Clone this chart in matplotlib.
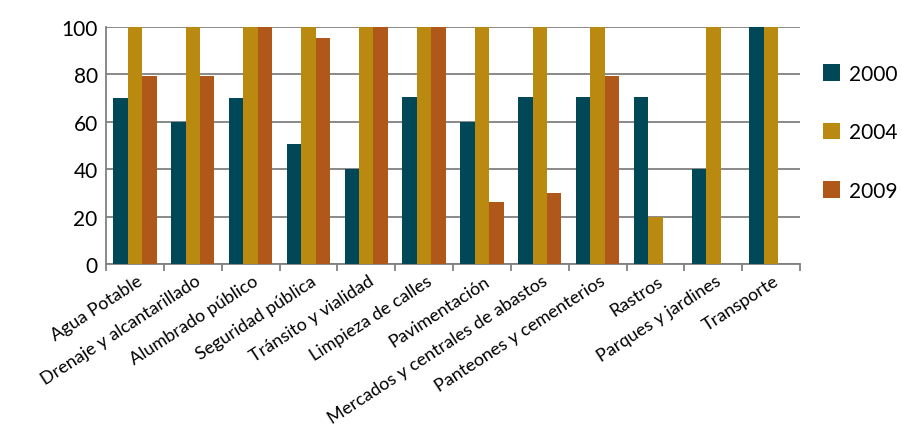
import matplotlib
matplotlib.use("Agg")
import matplotlib.pyplot as plt
import matplotlib.transforms as mtransforms
import numpy as np

categories = ["Agua Potable", "Drenaje y alcantarillado", "Alumbrado público",
              "Seguridad pública", "Tránsito y vialidad", "Limpieza de calles",
              "Pavimentación", "Mercados y centrales de abastos",
              "Panteones y cementerios", "Rastros", "Parques y jardines", "Transporte"]
series_names = ["2000", "2004", "2009"]
v2000 = [70, 60, 70, 50.5, 40, 70.5, 60, 70.5, 70.5, 70.5, 40, 100]
v2004 = [100, 100, 100, 100, 100, 100, 100, 100, 100, 20, 100, 100]
v2009 = [79.5, 79.5, 100, 95.5, 100, 100, 26, 30, 79.5, 0, 0, 0]
colors = ["#004857", "#BA8A10", "#B0581A"]
yticks = [0, 20, 40, 60, 80, 100]

plt.rcParams['font.family'] = ['Lato', 'DejaVu Sans']

fig = plt.figure(figsize=(9.02, 4.31), dpi=100)
ax = fig.add_axes([0.1175, 0.385, 0.7695, 0.55])

x = np.arange(len(categories))
w = 0.25
for i, (vals, name) in enumerate(zip([v2000, v2004, v2009], series_names)):
    ax.bar(x + (i - 1) * w, vals, width=w, color=colors[i], label=name, zorder=3)

ax.set_xlim(-0.5, len(categories) - 0.5)
ax.set_ylim(0, 100)
ax.set_yticks(yticks)
ax.set_yticklabels([str(t) for t in yticks], fontsize=15)
ax.yaxis.grid(True, color="#808080", linewidth=1.3, zorder=0)
ax.tick_params(axis='y', length=0, pad=6)

ax.set_xticks(np.arange(-0.5, len(categories), 1), minor=False)
ax.set_xticklabels([])
ax.set_xticks(x, minor=True)
ax.set_xticklabels(categories, minor=True, rotation=33, ha='right', va='center',
                   rotation_mode='anchor', fontsize=13)
ax.tick_params(axis='x', which='major', length=5, color="#808080", width=1.3)
ax.tick_params(axis='x', which='minor', length=0, pad=0)
offset = mtransforms.ScaledTranslation(6 / 100, -15 / 100, fig.dpi_scale_trans)
for lbl in ax.get_xticklabels(minor=True):
    lbl.set_transform(lbl.get_transform() + offset)

for s in ['top', 'right']:
    ax.spines[s].set_visible(False)
for s in ['left', 'bottom']:
    ax.spines[s].set_color("#808080")
    ax.spines[s].set_linewidth(1.3)

leg = fig.legend(loc='upper left', bbox_to_anchor=(0.912, 0.85), frameon=False,
                 fontsize=15, handlelength=0.85, handleheight=0.85,
                 labelspacing=1.85, handletextpad=0.4, borderpad=0, borderaxespad=0)

fig.savefig("out.png", dpi=100)
